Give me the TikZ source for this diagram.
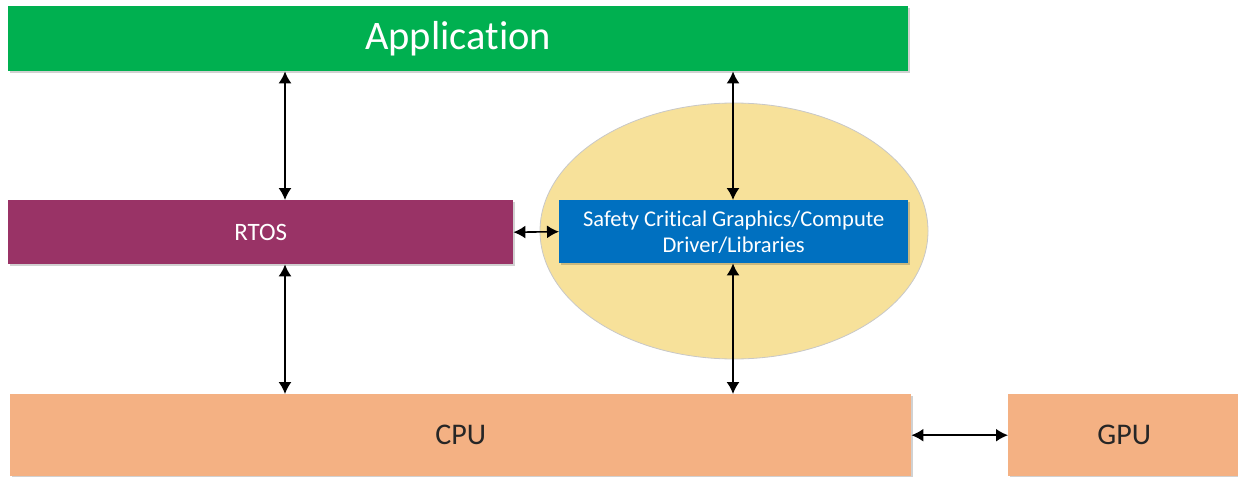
\documentclass[tikz,border=0pt]{standalone}
\usepackage{fontspec}
\setmainfont[Ligatures=CommonOff]{Carlito}
\usetikzlibrary{arrows.meta,shadows,shapes.geometric}
\definecolor{appgreen}{RGB}{0,176,80}
\definecolor{rtospurple}{RGB}{153,51,102}
\definecolor{drvblue}{RGB}{0,112,192}
\definecolor{hwpeach}{RGB}{244,177,131}
\definecolor{ellfill}{RGB}{247,225,154}
\definecolor{ellline}{RGB}{200,200,200}
\tikzset{
  layer/.style={rectangle, draw=none, inner sep=0pt, anchor=north west,
    drop shadow={shadow xshift=1.5pt, shadow yshift=-2pt, opacity=0.18, fill=black}},
  link/.style={line width=1.6pt, {Latex[length=12pt,width=13pt]}-{Latex[length=12pt,width=13pt]}}
}
\begin{document}
\begin{tikzpicture}[x=1pt,y=-1pt]
\useasboundingbox (0,0) rectangle (1238,476);
\node[ellipse, fill=ellfill, draw=ellline, line width=0.8pt, minimum width=388pt, minimum height=256pt, inner sep=0pt] (ell) at (734,231) {};
\node[layer, fill=appgreen, minimum width=900pt, minimum height=65pt, text=white, font=\fontsize{40.5}{46}\selectfont] (app) at (8,6) {Application};
\node[layer, fill=rtospurple, minimum width=505pt, minimum height=64pt, text=white, font=\fontsize{25}{29}\selectfont] (rtos) at (8,200) {RTOS};
\node[layer, fill=drvblue, minimum width=349pt, minimum height=63pt, text=white, align=center, font=\fontsize{22.5}{26}\selectfont] (drv) at (559,200) {Safety Critical Graphics/Compute\\Driver/Libraries};
\node[layer, fill=hwpeach, minimum width=901pt, minimum height=82pt, text=black!85, font=\fontsize{30}{35}\selectfont] (cpu) at (10,394) {CPU};
\node[layer, fill=hwpeach, minimum width=232pt, minimum height=82pt, text=black!85, font=\fontsize{30}{35}\selectfont] (gpu) at (1008,394) {GPU};
\draw[link] (app.south -| 285,0) -- (rtos.north -| 285,0);
\draw[link] (app.south -| 733,0) -- (drv.north -| 733,0);
\draw[link] (rtos.east) -- (drv.west);
\draw[link] (rtos.south -| 285,0) -- (cpu.north -| 285,0);
\draw[link] (drv.south -| 733,0) -- (cpu.north -| 733,0);
\draw[link] (cpu.east) -- (gpu.west);
\end{tikzpicture}
\end{document}
